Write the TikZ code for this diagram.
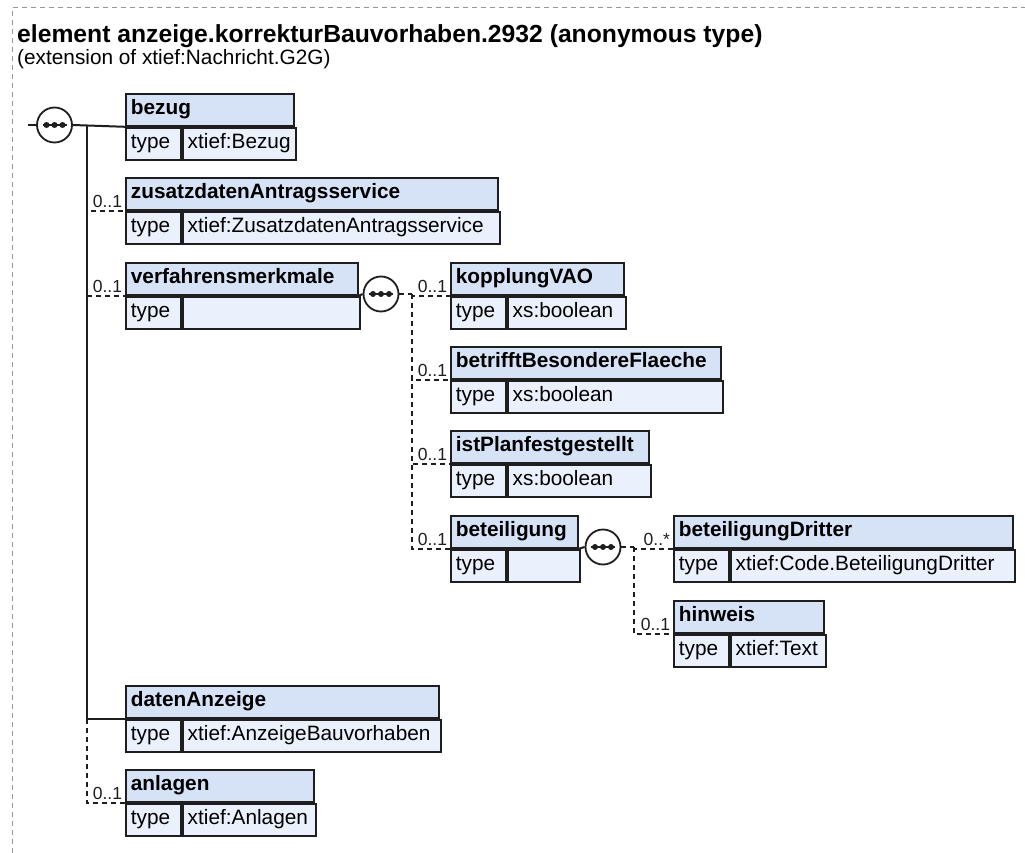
\documentclass[tikz,border=0pt]{standalone}
\usepackage{fontspec}
\setmainfont{Liberation Sans}
\usetikzlibrary{positioning}
\definecolor{xsdhead}{RGB}{214,227,247}
\definecolor{xsdbody}{RGB}{234,241,252}
\definecolor{xsdline}{RGB}{30,30,30}
\definecolor{xsdframe}{RGB}{150,150,150}

\begin{document}
\begin{tikzpicture}[
    x=1pt, y=-1pt,
    hdr/.style={rectangle, draw=xsdline, line width=1.8pt, fill=xsdhead, anchor=north west, minimum height=32pt, inner xsep=5pt, inner ysep=0pt, text height=15pt, text depth=5pt, align=left, font=\fontsize{20.8}{24}\selectfont\bfseries},
    typ/.style={hdr, fill=xsdbody, text width=45pt, font=\fontsize{20.8}{24}\selectfont},
    val/.style={typ},
    seq/.style={circle, draw=xsdline, line width=1.8pt, fill=white, minimum size=35pt, inner sep=0pt},
    link/.style={line width=2pt, xsdline},
    optlink/.style={link, dash pattern=on 5pt off 4pt},
    mult/.style={anchor=south east, inner sep=2pt, font=\fontsize{17.5}{20}\selectfont, text=xsdline}
]
\useasboundingbox (0,0) rectangle (1025,853);

% frame and heading
\draw[xsdframe, line width=1pt, dash pattern=on 5pt off 4pt] (12,853) -- (12,8) -- (1025,8);
\node[anchor=base west, inner sep=0pt, font=\fontsize{24.7}{28}\selectfont\bfseries] (title) at (17,43) {element anzeige.korrekturBauvorhaben.2932 (anonymous type)};
\node[anchor=base west, inner sep=0pt, font=\fontsize{20.8}{24}\selectfont] (subtitle) at (17,65) {(extension of xtief:Nachricht.G2G)};

% top level sequence
\node[hdr, text width=158pt] (bezug) at (125,93) {bezug};
\node[typ] (bezug-t) at (bezug.south west) {type};
\node[val, text width=103pt] (bezug-v) at (bezug-t.north east) {xtief:Bezug};

\node[hdr, text width=362pt] (zusatz) at (125,177) {zusatzdatenAntragsservice};
\node[typ] (zusatz-t) at (zusatz.south west) {type};
\node[val, text width=307pt] (zusatz-v) at (zusatz-t.north east) {xtief:ZusatzdatenAntragsservice};

\node[hdr, text width=222pt] (verfahren) at (125,262) {verfahrensmerkmale};
\node[typ] (verfahren-t) at (verfahren.south west) {type};
\node[val, text width=167pt] (verfahren-v) at (verfahren-t.north east) {};

\node[hdr, text width=303pt] (daten) at (125,685) {datenAnzeige};
\node[typ] (daten-t) at (daten.south west) {type};
\node[val, text width=248pt] (daten-v) at (daten-t.north east) {xtief:AnzeigeBauvorhaben};

\node[hdr, text width=178pt] (anlagen) at (125,769) {anlagen};
\node[typ] (anlagen-t) at (anlagen.south west) {type};
\node[val, text width=123pt] (anlagen-v) at (anlagen-t.north east) {xtief:Anlagen};

% verfahrensmerkmale children
\node[hdr, text width=163pt] (kopplung) at (450,262) {kopplungVAO};
\node[typ] (kopplung-t) at (kopplung.south west) {type};
\node[val, text width=108pt] (kopplung-v) at (kopplung-t.north east) {xs:boolean};

\node[hdr, text width=260pt] (flaeche) at (450,346) {betrifftBesondereFlaeche};
\node[typ] (flaeche-t) at (flaeche.south west) {type};
\node[val, text width=205pt] (flaeche-v) at (flaeche-t.north east) {xs:boolean};

\node[hdr, text width=188pt] (planfest) at (450,430) {istPlanfestgestellt};
\node[typ] (planfest-t) at (planfest.south west) {type};
\node[val, text width=133pt] (planfest-v) at (planfest-t.north east) {xs:boolean};

\node[hdr, text width=117pt] (beteiligung) at (450,515) {beteiligung};
\node[typ] (beteiligung-t) at (beteiligung.south west) {type};
\node[val, text width=62pt] (beteiligung-v) at (beteiligung-t.north east) {};

% beteiligung children
\node[hdr, text width=329pt] (dritter) at (673,515) {beteiligungDritter};
\node[typ] (dritter-t) at (dritter.south west) {type};
\node[val, text width=274pt] (dritter-v) at (dritter-t.north east) {xtief:Code.BeteiligungDritter};

\node[hdr, text width=140pt] (hinweis) at (673,600) {hinweis};
\node[typ] (hinweis-t) at (hinweis.south west) {type};
\node[val, text width=85pt] (hinweis-v) at (hinweis-t.north east) {xtief:Text};

% sequence symbols and forks
\coordinate (root) at (28,125);
\node[seq] (seq1) at (54.5,125) {};
\node[seq] (seq2) at (381,294) {};
\node[seq] (seq3) at (603,547) {};
\coordinate (trunk) at (87,125);
\coordinate (fork2) at (412,294);
\coordinate (fork3) at (634,547);
\foreach \s in {seq1,seq2,seq3} {
  \draw[line width=1.6pt, xsdline] ([xshift=-12pt]\s.center) -- ([xshift=12pt]\s.center);
  \foreach \dx in {-8,0,8} \fill[xsdline] ([xshift=\dx pt]\s.center) circle (3pt);
}

% connectors
\draw[link] (root) -- (seq1.west);
\draw[link] (seq1.east) -- (bezug.south west);
\draw[link] (trunk) |- (daten.south west);
\draw[optlink] (trunk) |- (zusatz.south west) node[mult] {0..1};
\draw[optlink] (trunk) |- (verfahren.south west) node[mult] {0..1};
\draw[optlink] (trunk) |- (anlagen.south west) node[mult] {0..1};

\draw[link] (verfahren.south east) -- (seq2.west);
\draw[optlink] (seq2.east) -- (fork2);
\draw[optlink] (fork2) |- (kopplung.south west) node[mult] {0..1};
\draw[optlink] (fork2) |- (flaeche.south west) node[mult] {0..1};
\draw[optlink] (fork2) |- (planfest.south west) node[mult] {0..1};
\draw[optlink] (fork2) |- (beteiligung.south west) node[mult] {0..1};

\draw[link] (beteiligung.south east) -- (seq3.west);
\draw[optlink] (seq3.east) -- (fork3);
\draw[optlink] (fork3) |- (dritter.south west) node[mult] {0..*};
\draw[optlink] (fork3) |- (hinweis.south west) node[mult] {0..1};

\end{tikzpicture}
\end{document}
